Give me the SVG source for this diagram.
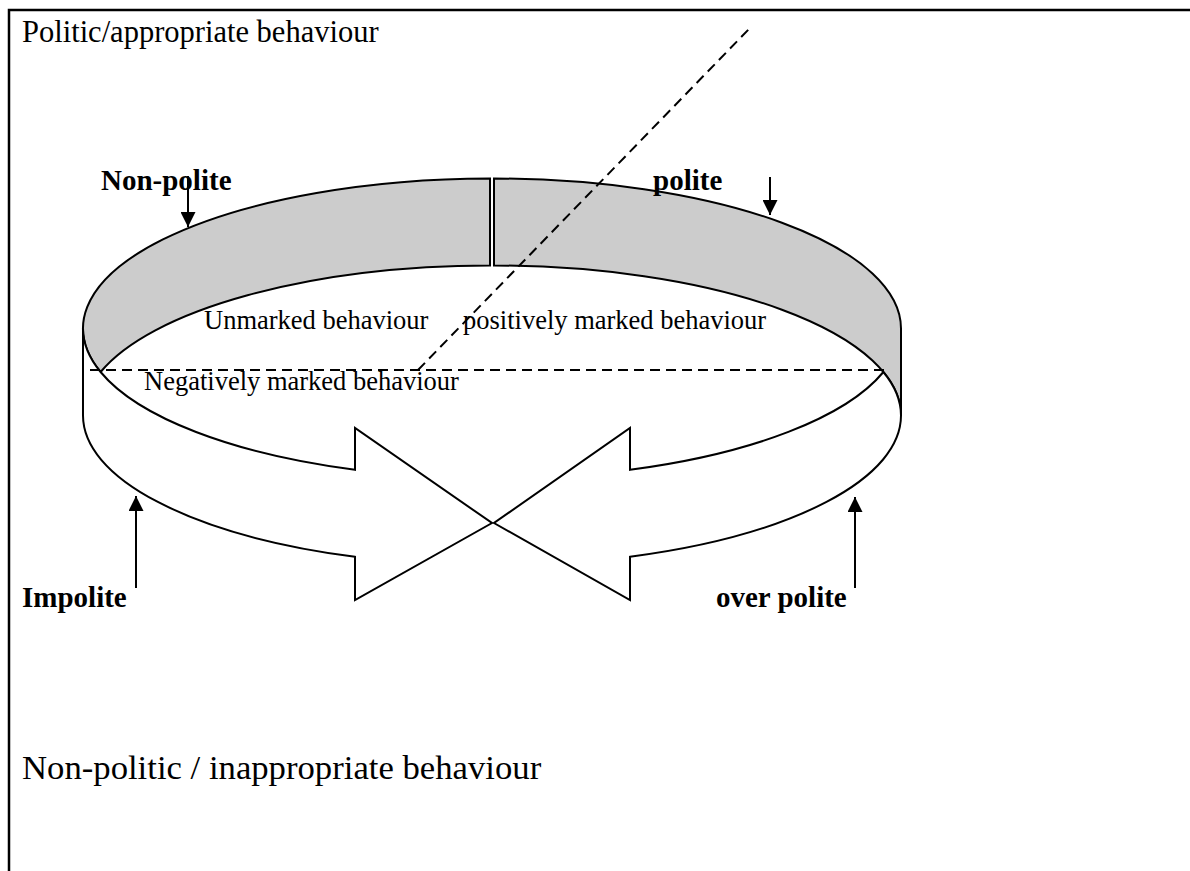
<svg xmlns="http://www.w3.org/2000/svg" width="1190" height="871" viewBox="0 0 1190 871">
<style>
  .frame { stroke:#000; stroke-width:2.5; fill:none; }
  .band { fill:#cccccc; stroke:#000; stroke-width:2; stroke-linejoin:miter; }
  .front { fill:#ffffff; stroke:#000; stroke-width:2; stroke-linejoin:miter; }
  .dash { stroke:#000; stroke-width:2; stroke-dasharray:10 6; fill:none; }
  .ptr { stroke:#000; stroke-width:2; fill:none; }
  .t { font-family:"Liberation Serif","Times New Roman",serif; fill:#000; }
  .big { font-size:30.5px; }
  .mid { font-size:26.5px; }
  .bold { font-size:29px; font-weight:bold; }
</style>
<defs>
  <marker id="head" markerUnits="userSpaceOnUse" markerWidth="15" markerHeight="15" refX="15" refY="7.5" orient="auto">
    <path d="M0,0 L15,7.5 L0,15 Z" fill="#000"/>
  </marker>
</defs>
<rect width="1190" height="871" fill="#fff"/>
<g id="frame">
  <path class="frame" d="M9,871 L9,10 L1190,10"/>
</g>
<g id="politic-label">
  <text class="t big" x="22" y="42">Politic/appropriate behaviour</text>
</g>
<g id="nonpolitic-label">
  <text class="t big" x="22" y="779" style="font-size:34.7px">Non-politic / inappropriate behaviour</text>
</g>
<g id="left-arrow">
  <path class="band" d="M490,178.5 A409,150 0 0 0 100.6,372 A409,150 0 0 1 490,265.5 Z"/>
  <path class="front" d="M100.6,372 A409,150 0 0 0 355,469.8 L355,428 L492,523 L355,600 L355,556.8 A409,150 0 0 1 83,415.5 L83,328.5 A409,150 0 0 0 100.6,372 Z"/>
</g>
<g id="right-arrow">
  <path class="band" d="M494,178.5 A409,150 0 0 1 901,328.5 L901,415.5 A409,150 0 0 0 494,265.5 Z"/>
  <path class="front" d="M883.4,372 A409,150 0 0 1 630,469.8 L630,428 L494,523 L630,600 L630,556.8 A409,150 0 0 0 901,415.5 A409,150 0 0 0 883.4,372 Z"/>
</g>
<g id="inner-labels">
  <text class="t mid" x="204" y="329">Unmarked behaviour</text>
  <text class="t mid" x="463" y="329">positively marked behaviour</text>
  <text class="t mid" x="144" y="390">Negatively marked behaviour</text>
</g>
<g id="connectors">
  <path class="dash" d="M90,370 L885,370"/>
  <path class="dash" d="M418,370 L750,28"/>
  <path class="ptr" d="M188,176 L188,227" marker-end="url(#head)"/>
  <path class="ptr" d="M770,177 L770,215" marker-end="url(#head)"/>
  <path class="ptr" d="M136,588 L136,496" marker-end="url(#head)"/>
  <path class="ptr" d="M855,588 L855,497" marker-end="url(#head)"/>
</g>
<g id="pointer-labels">
  <text class="t bold" x="101" y="190">Non-polite</text>
  <text class="t bold" x="653" y="190">polite</text>
  <text class="t bold" x="22" y="607">Impolite</text>
  <text class="t bold" x="716" y="607">over polite</text>
</g>
</svg>
